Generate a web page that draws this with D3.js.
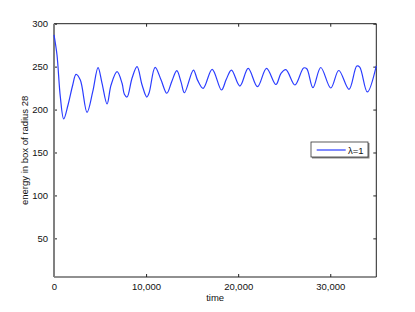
<!DOCTYPE html>
<html><head><meta charset="utf-8">
<script src="https://cdn.jsdelivr.net/npm/d3@7"></script>
<style>body{margin:0;background:#fff}svg{display:block}text{font-family:"Liberation Sans",Arial,sans-serif}</style>
</head><body>
<svg id="c" width="415" height="312"></svg>
<script>
const time = [0,326,685,1054,1522,2033,2391,2859,3587,4207,4783,5218,5761,6196,6848,7392,7642,7935,8479,9022,9566,10077,10330,10980,11631,12250,12800,13337,13800,14163,15142,15600,16200,17175,18186,18700,19272,20185,21088,22099,23077,24099,24650,25185,26165,27100,27450,28121,28969,30056,30925,32034,32882,33200,34023,35000];
const energy = [287,263.5,215,189,205.3,228.6,241,234.4,196.8,220.8,248.8,230.6,206.5,228.6,244.1,230.6,217.8,214.6,236.8,250,228.6,214.6,219.6,249.2,234.4,219,233,245.3,232,219.6,246,234,224.7,246.9,222.8,235,246,227.4,248,226.6,248,229.2,242.2,246.5,228.6,248.4,247.5,225.5,249,225.1,245.5,223.6,250.7,249.5,220.5,251];
const xTicks = [0,10000,20000,30000];
const yTicks = [50,100,150,200,250,300];
const seriesName = "λ=1";

const svg = d3.select("#c");
const L=54, R=376.3, T=23.7, B=277;
const x = d3.scaleLinear().domain([0,35000]).range([L,R]);
const y = d3.scaleLinear().domain([5,300]).range([B,T]);
const axisColor="#222";
const fmt = d3.format(",");

// frame
svg.append("line").attr("x1",L).attr("x2",R).attr("y1",T).attr("y2",T).attr("stroke",axisColor);
svg.append("line").attr("x1",R).attr("x2",R).attr("y1",T).attr("y2",B).attr("stroke",axisColor);
svg.append("line").attr("x1",L).attr("x2",R).attr("y1",B).attr("y2",B).attr("stroke",axisColor).attr("stroke-width",1.2);

// bottom axis
const gx = svg.append("g").attr("transform",`translate(0,${B})`)
  .call(d3.axisBottom(x).tickValues(xTicks).tickFormat(d=>fmt(d)).tickSizeInner(-3).tickSizeOuter(0).tickPadding(6));
gx.select(".domain").remove();
gx.selectAll("line").attr("stroke",axisColor);
gx.selectAll("text").attr("font-size","9.5px").attr("fill","#111");
// top ticks
svg.append("g").attr("transform",`translate(0,${T})`)
  .call(d3.axisTop(x).tickValues(xTicks).tickFormat("").tickSizeInner(-3).tickSizeOuter(0))
  .call(g=>{g.select(".domain").remove();g.selectAll("line").attr("stroke",axisColor);});
// left axis
const gy = svg.append("g").attr("transform",`translate(${L},0)`)
  .call(d3.axisLeft(y).tickValues(yTicks).tickSizeInner(-3).tickSizeOuter(0).tickPadding(6));
gy.select(".domain").remove();
gy.selectAll("line").attr("stroke",axisColor);
gy.selectAll("text").attr("font-size","9.5px").attr("fill","#111");
// right ticks
svg.append("g").attr("transform",`translate(${R},0)`)
  .call(d3.axisRight(y).tickValues(yTicks).tickFormat("").tickSizeInner(-3).tickSizeOuter(0))
  .call(g=>{g.select(".domain").remove();g.selectAll("line").attr("stroke",axisColor);});
svg.append("line").attr("x1",L).attr("x2",L).attr("y1",T).attr("y2",B).attr("stroke","#808080").attr("stroke-width",2);

// data line
const data = time.map((t,i)=>({t,v:energy[i]}));
svg.append("path").datum(data)
  .attr("fill","none").attr("stroke","#2a3cff").attr("stroke-width",1.2)
  .attr("d", d3.line().x(d=>x(d.t)).y(d=>y(d.v)).curve(d3.curveCatmullRom.alpha(0.5)));

// labels
svg.append("text").attr("x",(L+R)/2).attr("y",300.5).attr("text-anchor","middle").attr("font-size","9.5px").attr("fill","#111").text("time");
svg.append("text").attr("transform",`translate(28,${(T+B)/2}) rotate(-90)`).attr("text-anchor","middle").attr("font-size","9.5px").attr("fill","#111").text("energy in box of radius 28");

// legend
const lg = svg.append("g");
lg.append("rect").attr("x",312).attr("y",143).attr("width",57.5).attr("height",15.5).attr("fill","#888");
lg.append("rect").attr("x",311).attr("y",142).attr("width",57).attr("height",15).attr("fill","#fff").attr("stroke","#333").attr("stroke-width",0.8);
lg.append("line").attr("x1",316.7).attr("x2",345.7).attr("y1",150).attr("y2",150).attr("stroke","#2a3cff").attr("stroke-width",1.2);
lg.append("text").attr("x",348).attr("y",153.5).attr("font-size","9.5px").attr("fill","#111").text(seriesName);
</script>
</body></html>
